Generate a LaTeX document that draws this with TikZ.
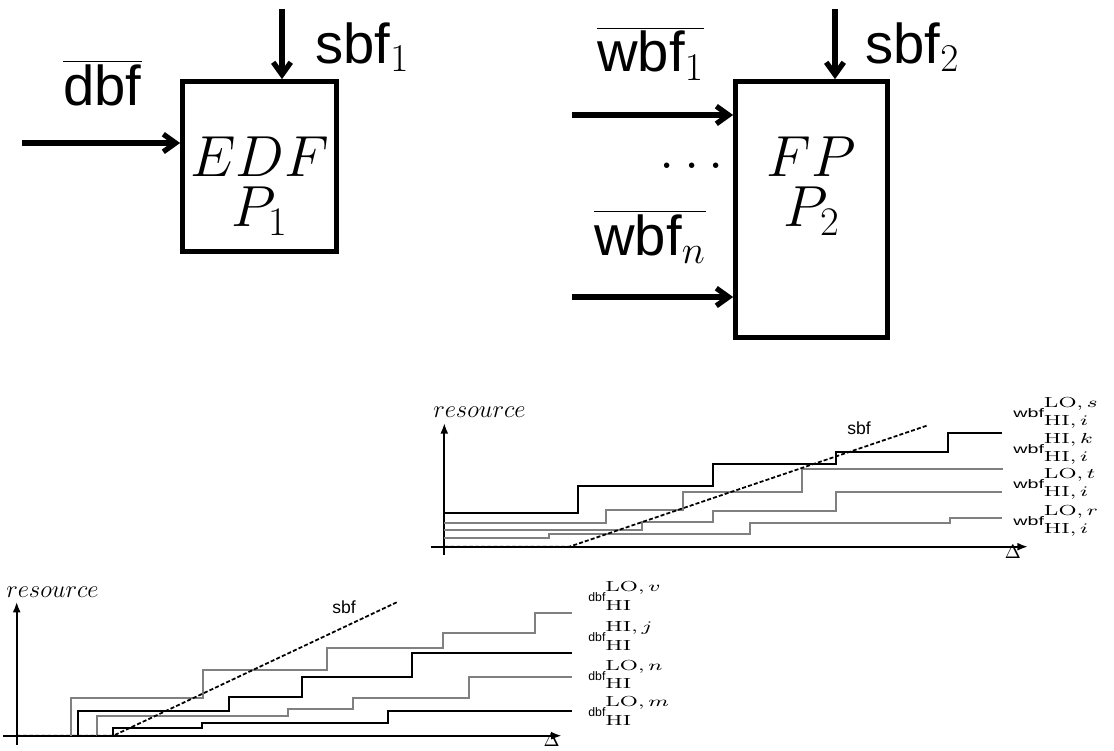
\RequirePackage{fix-cm}
\documentclass[tikz,border=0pt]{standalone}
\usepackage{graphicx}
\usepackage{fontspec}
\setsansfont{Liberation Sans}
\usetikzlibrary{arrows.meta,positioning}
\colorlet{stepgray}{black!50}
% function name with stacked criticality scripts
\newcommand{\fnlabel}[4]{\scalebox{#1}[1]{\fontsize{7}{8}\selectfont\sffamily #2}%
  \scalebox{1.5}[1]{\fontsize{8.3}{9}\selectfont\rlap{\raisebox{5.6pt}{$#3$}}\raisebox{-5.1pt}{$#4$}}}

\begin{document}
\begin{tikzpicture}[x=0.02cm, y=-0.02cm,
    blk/.style={draw, line width=3pt, inner sep=0pt},
    boxtext/.style={inner sep=0pt, outer sep=0pt, align=center, font=\fontsize{33}{28.35}\selectfont},
    bigtxt/.style={inner sep=0pt, anchor=base west, font=\fontsize{32}{38}\selectfont},
    feed/.style={line width=3pt, -{Straight Barb[length=7pt,width=10pt]}},
    axis/.style={line width=1.1pt, -{Latex[length=6pt,width=4.5pt]}},
    supply/.style={line width=1pt, dash pattern=on 2.3pt off 1.2pt},
    stepblk/.style={line width=1pt},
    stepgry/.style={line width=1pt, draw=stepgray},
    axtxt/.style={inner sep=0pt, font=\fontsize{14}{16}\selectfont},
    fnlbl/.style={inner sep=0pt, anchor=base west},
    sbftxt/.style={inner sep=0pt, font=\fontsize{10}{12}\selectfont\sffamily}]
  \useasboundingbox (0,0) rectangle (1114,750);

  % processors
  \node[blk, minimum width=3.07cm, minimum height=3.39cm] (P1) at (259.5,166.5) {};
  \node[blk, minimum width=3.03cm, minimum height=5.11cm] (P2) at (811.5,209.5) {};
  \node[boxtext, below=1.16cm of P1.north] (edf) {$EDF$\\$P_1$};
  \node[boxtext, below=1.16cm of P2.north] (fp) {$FP$\\$P_2$};

  % interfaces
  \node[bigtxt] (sbf1) at (315,63.3) {$\textsf{sbf}_1$};
  \node[bigtxt] (sbf2) at (865,63.3) {$\textsf{sbf}_2$};
  \node[bigtxt] (dbf) at (63,105) {$\overline{\textsf{dbf}}$};
  \node[bigtxt] (wbf1) at (597,71.7) {$\overline{\textsf{wbf}_1}$};
  \node[bigtxt] (wbfn) at (594,255) {$\overline{\textsf{wbf}_n}$};
  \node[bigtxt, anchor=base] (dots) at (692,168) {$\dots$};

  \coordinate (din) at (22,143);
  \coordinate (s1) at (282,9);
  \coordinate (w1) at (572,115);
  \coordinate (wn) at (572,297);
  \coordinate (s2) at (835,9);
  \draw[feed] (din) -- (din -| P1.west);
  \draw[feed] (s1) -- (s1 |- P1.north);
  \draw[feed] (w1) -- (w1 -| P2.west);
  \draw[feed] (wn) -- (wn -| P2.west);
  \draw[feed] (s2) -- (s2 |- P2.north);

  % wbf chart
  \coordinate (o1) at (444.3,546.7);
  \draw[axis] (431,546.7) -- (1028,546.7);
  \draw[axis] (444.3,555) -- (444.3,423);
  \node[axtxt] (res1) at (479.5,412) {$resource$};
  \node[axtxt, font=\fontsize{11}{12}\selectfont] (del1) at (1013,552) {$\Delta$};
  \draw[stepblk] (o1 |- 0,512.7) -| (578.3,485.7) -| (712.7,464.3) -| (836,452.3) -| (948.3,432.7) -- (1001.7,432.7);
  \draw[stepgry] (o1 |- 0,523.3) -| (606,510) -| (682.7,492) -| (801.7,469) -- (1003,469);
  \draw[stepgry] (o1 |- 0,530) -| (641.7,521.7) -| (712.7,511) -| (836,491.7) -- (1001.7,491.7);
  \draw[stepgry] (o1 |- 0,538.3) -| (549.3,534.3) -| (750,523.3) -| (950,518.3) -- (1001.7,518.3);
  \draw[supply] (o1) -- (569.3,546.7) -- (926.7,425.7);
  \node[sbftxt] (sbfa) at (859,428) {sbf};
  \node[fnlbl] (wa) at (1013,417) {\fnlabel{1.6}{wbf}{\mathrm{LO},s}{\mathrm{HI},i}};
  \node[fnlbl] (wb) at (1013,453) {\fnlabel{1.6}{wbf}{\mathrm{HI},k}{\mathrm{HI},i}};
  \node[fnlbl] (wc) at (1013,488) {\fnlabel{1.6}{wbf}{\mathrm{LO},t}{\mathrm{HI},i}};
  \node[fnlbl] (wd) at (1013,525) {\fnlabel{1.6}{wbf}{\mathrm{LO},r}{\mathrm{HI},i}};

  % dbf chart
  \coordinate (o2) at (16.7,735.7);
  \draw[axis] (3.3,735.7) -- (561.7,735.7);
  \draw[axis] (16.7,745) -- (16.7,601.7);
  \node[axtxt] (res2) at (52.5,592) {$resource$};
  \node[axtxt, font=\fontsize{11}{12}\selectfont] (del2) at (551.7,740) {$\Delta$};
  \draw[stepgry] (70.7,735.7) |- (203.3,698.3) |- (326.7,670) |- (443.3,647.7) |- (535,633.3) |- (571.7,613.3);
  \draw[stepblk] (77.7,735.7) |- (229.3,711) |- (301.7,696.7) |- (411.7,676.7) |- (571.7,653.3);
  \draw[stepgry] (96.7,735.7) |- (288.3,716) |- (353.3,709) |- (469.3,697.7) |- (571.7,676.7);
  \draw[stepblk] (113.3,735.7) |- (201.7,728.3) |- (388.3,722.7) |- (571.7,711);
  \draw[supply] (o2) -- (113.3,735.7) -- (396.7,602.3);
  \node[sbftxt] (sbfb) at (344,607) {sbf};
  \node[fnlbl] (da) at (588,601.7) {\fnlabel{1}{dbf}{\mathrm{LO},v}{\mathrm{HI}}};
  \node[fnlbl] (db) at (588,641.7) {\fnlabel{1}{dbf}{\mathrm{HI},j}{\mathrm{HI}}};
  \node[fnlbl] (dc) at (588,680) {\fnlabel{1}{dbf}{\mathrm{LO},n}{\mathrm{HI}}};
  \node[fnlbl] (dd) at (588,716.7) {\fnlabel{1}{dbf}{\mathrm{LO},m}{\mathrm{HI}}};
\end{tikzpicture}
\end{document}
